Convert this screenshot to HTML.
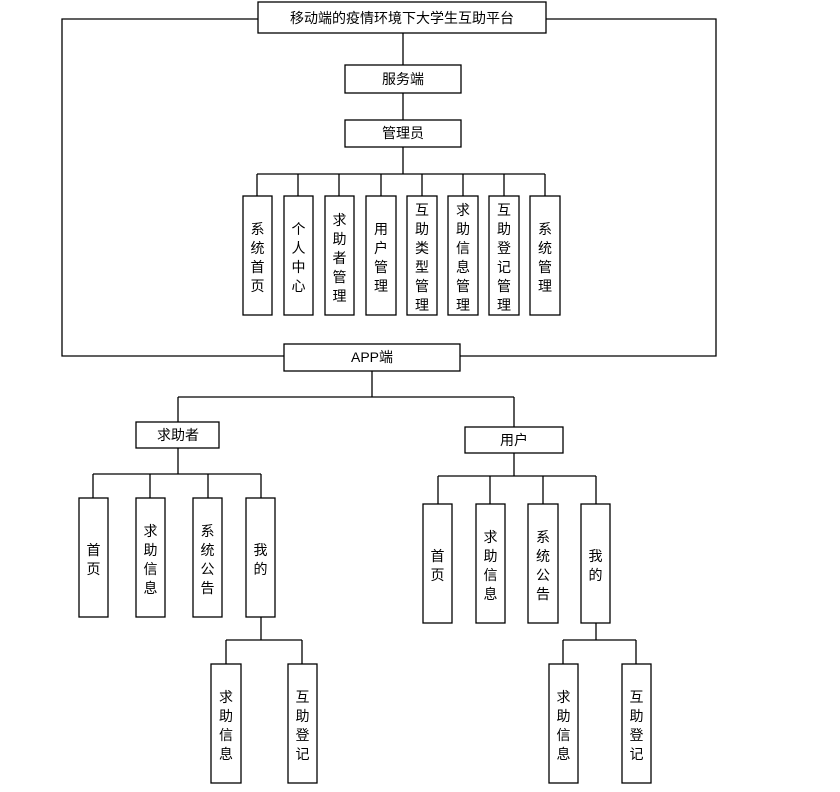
<!DOCTYPE html>
<html><head><meta charset="utf-8"><style>
html,body{margin:0;padding:0;background:#fff}
svg{display:block}
text{font-family:"Liberation Sans","Noto Sans CJK SC","WenQuanYi Zen Hei",sans-serif;font-size:14px;fill:#000}
</style></head><body>
<svg width="840" height="792" xmlns="http://www.w3.org/2000/svg">
<g stroke="#000" stroke-width="1.3" fill="none">
<!-- frame -->
<polyline points="258,19 62,19 62,356 284,356"/>
<polyline points="546,19 716,19 716,356 460,356"/>
<line x1="403" y1="33" x2="403" y2="65"/>
<line x1="403" y1="93" x2="403" y2="120"/>
<line x1="403" y1="147" x2="403" y2="174"/>
<line x1="257" y1="174" x2="545" y2="174"/>
<line x1="257" y1="174" x2="257" y2="196"/><line x1="298" y1="174" x2="298" y2="196"/>
<line x1="339" y1="174" x2="339" y2="196"/><line x1="381" y1="174" x2="381" y2="196"/>
<line x1="422" y1="174" x2="422" y2="196"/><line x1="463" y1="174" x2="463" y2="196"/>
<line x1="504" y1="174" x2="504" y2="196"/><line x1="545" y1="174" x2="545" y2="196"/>
<!-- app -->
<line x1="372" y1="371" x2="372" y2="397"/>
<line x1="178" y1="397" x2="514" y2="397"/>
<line x1="178" y1="397" x2="178" y2="422"/>
<line x1="514" y1="397" x2="514" y2="427"/>
<!-- left -->
<line x1="178" y1="448" x2="178" y2="474"/>
<line x1="93" y1="474" x2="261" y2="474"/>
<line x1="93" y1="474" x2="93" y2="498"/><line x1="150" y1="474" x2="150" y2="498"/>
<line x1="208" y1="474" x2="208" y2="498"/><line x1="261" y1="474" x2="261" y2="498"/>
<line x1="261" y1="617" x2="261" y2="640"/>
<line x1="226" y1="640" x2="302" y2="640"/>
<line x1="226" y1="640" x2="226" y2="664"/><line x1="302" y1="640" x2="302" y2="664"/>
<!-- right -->
<line x1="514" y1="453" x2="514" y2="476"/>
<line x1="438" y1="476" x2="596" y2="476"/>
<line x1="438" y1="476" x2="438" y2="504"/><line x1="490" y1="476" x2="490" y2="504"/>
<line x1="543" y1="476" x2="543" y2="504"/><line x1="596" y1="476" x2="596" y2="504"/>
<line x1="596" y1="623" x2="596" y2="640"/>
<line x1="563" y1="640" x2="636" y2="640"/>
<line x1="563" y1="640" x2="563" y2="664"/><line x1="636" y1="640" x2="636" y2="664"/>
<!-- boxes -->
<rect x="258" y="2" width="288" height="31"/>
<rect x="345" y="65" width="116" height="28"/>
<rect x="345" y="120" width="116" height="27"/>
<rect x="243" y="196" width="29" height="119"/><rect x="284" y="196" width="29" height="119"/>
<rect x="325" y="196" width="29" height="119"/><rect x="366" y="196" width="30" height="119"/>
<rect x="407" y="196" width="30" height="119"/><rect x="448" y="196" width="30" height="119"/>
<rect x="489" y="196" width="30" height="119"/><rect x="530" y="196" width="30" height="119"/>
<rect x="284" y="344" width="176" height="27"/>
<rect x="136" y="422" width="83" height="26"/>
<rect x="465" y="427" width="98" height="26"/>
<rect x="79" y="498" width="29" height="119"/><rect x="136" y="498" width="29" height="119"/>
<rect x="193" y="498" width="29" height="119"/><rect x="246" y="498" width="29" height="119"/>
<rect x="211" y="664" width="30" height="119"/><rect x="288" y="664" width="29" height="119"/>
<rect x="423" y="504" width="29" height="119"/><rect x="476" y="504" width="29" height="119"/>
<rect x="528" y="504" width="30" height="119"/><rect x="581" y="504" width="29" height="119"/>
<rect x="549" y="664" width="29" height="119"/><rect x="622" y="664" width="29" height="119"/>
</g>
<g text-anchor="middle">
<text x="402" y="23">移动端的疫情环境下大学生互助平台</text>
<text x="403" y="84">服务端</text>
<text x="403" y="138">管理员</text>
<text x="372" y="362">APP端</text>
<text x="178" y="440">求助者</text>
<text x="514" y="445">用户</text>
</g>
<g text-anchor="middle">
<text x="257.5" y="234">系</text><text x="257.5" y="253">统</text><text x="257.5" y="272">首</text><text x="257.5" y="291">页</text>
<text x="298.5" y="234">个</text><text x="298.5" y="253">人</text><text x="298.5" y="272">中</text><text x="298.5" y="291">心</text>
<text x="339.5" y="225">求</text><text x="339.5" y="244">助</text><text x="339.5" y="263">者</text><text x="339.5" y="282">管</text><text x="339.5" y="301">理</text>
<text x="381" y="234">用</text><text x="381" y="253">户</text><text x="381" y="272">管</text><text x="381" y="291">理</text>
<text x="422" y="215">互</text><text x="422" y="234">助</text><text x="422" y="253">类</text><text x="422" y="272">型</text><text x="422" y="291">管</text><text x="422" y="310">理</text>
<text x="463" y="215">求</text><text x="463" y="234">助</text><text x="463" y="253">信</text><text x="463" y="272">息</text><text x="463" y="291">管</text><text x="463" y="310">理</text>
<text x="504" y="215">互</text><text x="504" y="234">助</text><text x="504" y="253">登</text><text x="504" y="272">记</text><text x="504" y="291">管</text><text x="504" y="310">理</text>
<text x="545" y="234">系</text><text x="545" y="253">统</text><text x="545" y="272">管</text><text x="545" y="291">理</text>

<text x="93.5" y="555">首</text><text x="93.5" y="574">页</text>
<text x="150.5" y="536">求</text><text x="150.5" y="555">助</text><text x="150.5" y="574">信</text><text x="150.5" y="593">息</text>
<text x="207.5" y="536">系</text><text x="207.5" y="555">统</text><text x="207.5" y="574">公</text><text x="207.5" y="593">告</text>
<text x="260.5" y="555">我</text><text x="260.5" y="574">的</text>
<text x="226" y="702">求</text><text x="226" y="721">助</text><text x="226" y="740">信</text><text x="226" y="759">息</text>
<text x="302.5" y="702">互</text><text x="302.5" y="721">助</text><text x="302.5" y="740">登</text><text x="302.5" y="759">记</text>

<text x="437.5" y="561">首</text><text x="437.5" y="580">页</text>
<text x="490.5" y="542">求</text><text x="490.5" y="561">助</text><text x="490.5" y="580">信</text><text x="490.5" y="599">息</text>
<text x="543" y="542">系</text><text x="543" y="561">统</text><text x="543" y="580">公</text><text x="543" y="599">告</text>
<text x="595.5" y="561">我</text><text x="595.5" y="580">的</text>
<text x="563.5" y="702">求</text><text x="563.5" y="721">助</text><text x="563.5" y="740">信</text><text x="563.5" y="759">息</text>
<text x="636.5" y="702">互</text><text x="636.5" y="721">助</text><text x="636.5" y="740">登</text><text x="636.5" y="759">记</text>
</g>
</svg>
</body></html>
